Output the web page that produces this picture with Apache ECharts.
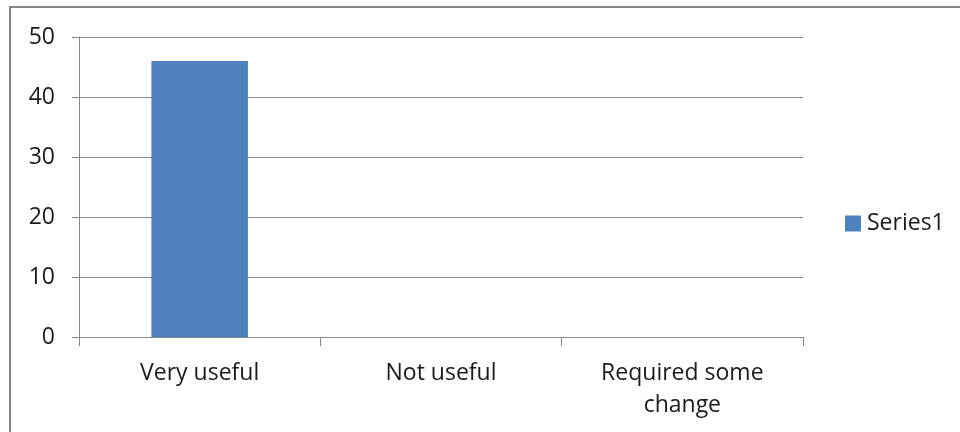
<!DOCTYPE html>
<html><head><meta charset="utf-8">
<script src="https://cdn.jsdelivr.net/npm/echarts@6/dist/echarts.min.js"></script>
<style>html,body{margin:0;padding:0;background:#fff}#c{width:960px;height:432px}</style>
</head><body><div id="c"></div>
<script>
const categories = ['Very useful', 'Not useful', 'Required some\nchange'];
const series1 = [46, 0, 0];
const yTicks = { min: 0, max: 50, interval: 10 };

const chart = echarts.init(document.getElementById('c'), null, { renderer: 'canvas' });
const font = 'Open Sans';
const txt = '#1a1a1a';
chart.setOption({
  animation: false,
  backgroundColor: '#fff',
  graphic: [{
    type: 'rect', silent: true,
    shape: { x: 10, y: 7, width: 960, height: 440 },
    style: { fill: 'none', stroke: '#868686', lineWidth: 2 }
  }],
  grid: { left: 79, right: 157, top: 37, bottom: 95, containLabel: false },
  legend: {
    orient: 'vertical',
    left: 845, top: 212, padding: 0,
    itemWidth: 16, itemHeight: 16, itemGap: 5,
    icon: 'rect',
    textStyle: { fontFamily: font, fontSize: 23, color: txt, padding: [0, 0, 0, 1] },
    data: ['Series1']
  },
  xAxis: {
    type: 'category', data: categories,
    axisLine: { lineStyle: { color: '#868686', width: 1 } },
    axisTick: { show: true, alignWithLabel: false, length: 9, lineStyle: { color: '#868686' } },
    axisLabel: { fontFamily: font, fontSize: 23, color: txt, margin: 20, lineHeight: 32, interval: 0 }
  },
  yAxis: {
    type: 'value', min: yTicks.min, max: yTicks.max, interval: yTicks.interval,
    axisLine: { show: true, lineStyle: { color: '#868686', width: 1 } },
    axisTick: { show: true, length: 7, lineStyle: { color: '#868686' } },
    axisLabel: { fontFamily: font, fontSize: 23, color: txt, margin: 24 },
    splitLine: { lineStyle: { color: '#868686', width: 1 } }
  },
  series: [{
    name: 'Series1', type: 'bar', data: series1,
    barWidth: '40%',
    itemStyle: { color: '#4f81bd' }
  }]
});
</script></body></html>
